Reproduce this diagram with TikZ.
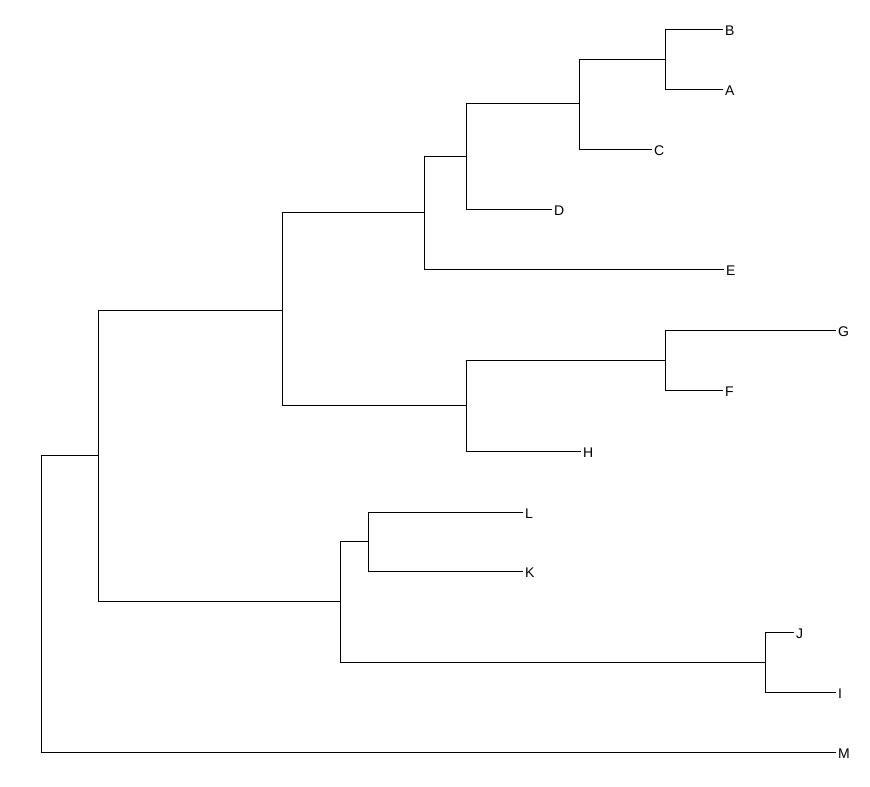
\documentclass[tikz,border=0pt]{standalone}
\usepackage{fontspec}
\setmainfont{Liberation Sans}
\usetikzlibrary{positioning}
\tikzset{
  leaf/.style={anchor=west, inner sep=3pt, text height=13pt, text depth=0pt,
    font=\fontsize{14}{16}\selectfont},
  branch/.style={line width=1pt, line cap=rect}
}

\begin{document}
\begin{tikzpicture}[x=1pt, y=-1pt]
				\useasboundingbox (0,0) rectangle (870,787);
				
				% leaves
				\node[leaf] (B) at (722,29) {B};
				\node[leaf] (A) at (722,89) {A};
				\node[leaf] (C) at (651,149) {C};
				\node[leaf] (D) at (551,209) {D};
				\node[leaf] (E) at (723,269) {E};
				\node[leaf] (G) at (835,330) {G};
				\node[leaf] (F) at (722,390) {F};
				\node[leaf] (H) at (580,451) {H};
				\node[leaf] (L) at (522,512) {L};
				\node[leaf] (K) at (522,571) {K};
				\node[leaf] (J) at (793,632) {J};
				\node[leaf] (I) at (835,692) {I};
				\node[leaf] (M) at (835,752) {M};
				
				% inner nodes
				\coordinate (nAB) at (665,59);
				\coordinate (nABC) at (579,103);
				\coordinate (nABCD) at (466,156);
				\coordinate (nABCDE) at (424,212);
				\coordinate (nFG) at (665,360);
				\coordinate (nFGH) at (466,405);
				\coordinate (nUp) at (282,310);
				\coordinate (nKL) at (368,541);
				\coordinate (nIJ) at (765,662);
				\coordinate (nLow) at (340,601);
				\coordinate (nTop) at (98,455);
				\coordinate (root) at (41,603);
				
				\draw[branch] (nAB) |- (B.west);
				\draw[branch] (nAB) |- (A.west);
				\draw[branch] (nABC) |- (nAB);
				\draw[branch] (nABC) |- (C.west);
				\draw[branch] (nABCD) |- (nABC);
				\draw[branch] (nABCD) |- (D.west);
				\draw[branch] (nABCDE) |- (nABCD);
				\draw[branch] (nABCDE) |- (E.west);
				
				\draw[branch] (nFG) |- (G.west);
				\draw[branch] (nFG) |- (F.west);
				\draw[branch] (nFGH) |- (nFG);
				\draw[branch] (nFGH) |- (H.west);
				
				\draw[branch] (nUp) |- (nABCDE);
				\draw[branch] (nUp) |- (nFGH);
				
				\draw[branch] (nKL) |- (L.west);
				\draw[branch] (nKL) |- (K.west);
				\draw[branch] (nIJ) |- (J.west);
				\draw[branch] (nIJ) |- (I.west);
				\draw[branch] (nLow) |- (nKL);
				\draw[branch] (nLow) |- (nIJ);
				
				\draw[branch] (nTop) |- (nUp);
				\draw[branch] (nTop) |- (nLow);
				\draw[branch] (root) |- (nTop);
				\draw[branch] (root) |- (M.west);
\end{tikzpicture}
\end{document}
